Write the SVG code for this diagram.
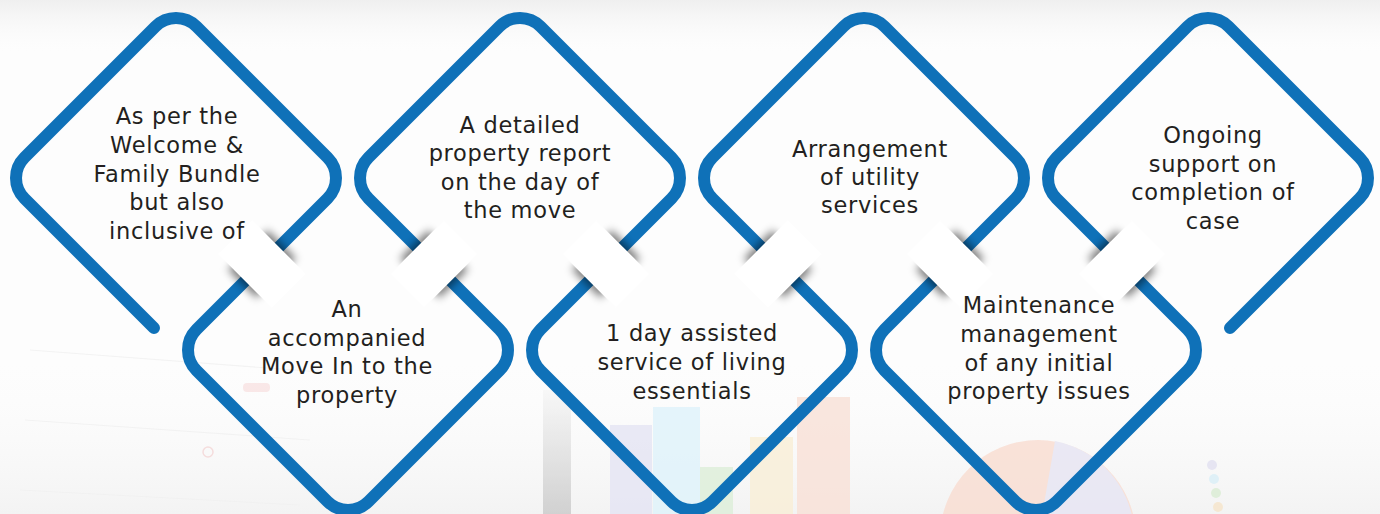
<svg xmlns="http://www.w3.org/2000/svg" width="1380" height="514" viewBox="0 0 1380 514">
  <defs>
    <style>
      .ring { fill: none; stroke: #0F71B8; stroke-width: 12; stroke-linecap: round; stroke-linejoin: round; }
      .lbl { font-family: "DejaVu Sans", "Liberation Sans", sans-serif; font-size: 22.5px; fill: #231f20; text-anchor: middle; letter-spacing: 0.7px; }
      .band { fill: #ffffff; }
      .shade { fill: #000000; opacity: 0.5; filter: url(#blur); }
    </style>
    <filter id="blur" x="-50%" y="-50%" width="200%" height="200%">
      <feGaussianBlur stdDeviation="4"/>
    </filter>
    <linearGradient id="topfade" x1="0" y1="0" x2="0" y2="1">
      <stop offset="0" stop-color="#efefef"/>
      <stop offset="1" stop-color="#ffffff" stop-opacity="0"/>
    </linearGradient>
    <linearGradient id="graybar" x1="0" y1="0" x2="0" y2="1">
      <stop offset="0" stop-color="#f7f7f7"/>
      <stop offset="1" stop-color="#c9c9c9"/>
    </linearGradient>
    <linearGradient id="bottomfade" x1="0" y1="0" x2="0" y2="1">
      <stop offset="0" stop-color="#ffffff" stop-opacity="0"/>
      <stop offset="1" stop-color="#f3f3f3"/>
    </linearGradient>
  </defs>

  <!-- background -->
  <g id="background">
    <rect x="0" y="0" width="1380" height="514" fill="#fdfdfd"/>
    <rect x="0" y="0" width="1380" height="60" fill="url(#topfade)"/>
    <rect x="0" y="330" width="1380" height="184" fill="url(#bottomfade)"/>
    <g opacity="0.8">
      <path d="M30 350 L320 372 M25 420 L310 440 M20 490 L300 505" stroke="#f1f1f1" stroke-width="1.2" fill="none"/>
      <rect x="243" y="383" width="27" height="9" rx="4" fill="#f9e3e3"/>
      <circle cx="208" cy="452" r="5" fill="none" stroke="#f4d6d6" stroke-width="1.5"/>
      <rect x="543" y="390" width="28" height="124" fill="url(#graybar)"/>
      <rect x="610" y="425" width="42" height="89" fill="#e5e5f4"/>
      <rect x="653" y="407" width="47" height="107" fill="#dff3fb"/>
      <rect x="700" y="467" width="33" height="47" fill="#ddefd9"/>
      <rect x="750" y="437" width="43" height="77" fill="#f9efd7"/>
      <rect x="797" y="397" width="53" height="117" fill="#f9e1d7"/>
      <circle cx="1038" cy="538" r="98" fill="#f9ddd1"/>
      <path d="M1038 538 L1055 441 A98 98 0 0 1 1021 634 Z" fill="#e7e5f3"/>
      <circle cx="1212" cy="465" r="5" fill="#e2e1f1"/>
      <circle cx="1214" cy="479" r="5" fill="#daeff8"/>
      <circle cx="1216" cy="493" r="5" fill="#daedd4"/>
      <circle cx="1218" cy="507" r="5" fill="#f6e5ca"/>
    </g>
  </g>

  <!-- diamond outlines -->
  <g id="node-1">
    <path class="ring" d="M154 328 L24.5 198.5 A29 29 0 0 1 24.5 157.5 L155.5 26.5 A29 29 0 0 1 196.5 26.5 L327.5 157.5 A29 29 0 0 1 327.5 198.5 L262 264"/>
  </g>
  <g id="node-2">
    <path class="ring" d="M262 264 L196.5 329.5 A29 29 0 0 0 196.5 370.5 L327.5 501.5 A29 29 0 0 0 368.5 501.5 L499.5 370.5 A29 29 0 0 0 499.5 329.5 L434 264"/>
  </g>
  <g id="node-3">
    <path class="ring" d="M434 264 L368.5 198.5 A29 29 0 0 1 368.5 157.5 L499.5 26.5 A29 29 0 0 1 540.5 26.5 L671.5 157.5 A29 29 0 0 1 671.5 198.5 L606 264"/>
  </g>
  <g id="node-4">
    <path class="ring" d="M606 264 L540.5 329.5 A29 29 0 0 0 540.5 370.5 L671.5 501.5 A29 29 0 0 0 712.5 501.5 L843.5 370.5 A29 29 0 0 0 843.5 329.5 L778 264"/>
  </g>
  <g id="node-5">
    <path class="ring" d="M778 264 L712.5 198.5 A29 29 0 0 1 712.5 157.5 L843.5 26.5 A29 29 0 0 1 884.5 26.5 L1015.5 157.5 A29 29 0 0 1 1015.5 198.5 L950 264"/>
  </g>
  <g id="node-6">
    <path class="ring" d="M950 264 L884.5 329.5 A29 29 0 0 0 884.5 370.5 L1015.5 501.5 A29 29 0 0 0 1056.5 501.5 L1187.5 370.5 A29 29 0 0 0 1187.5 329.5 L1122 264"/>
  </g>
  <g id="node-7">
    <path class="ring" d="M1122 264 L1056.5 198.5 A29 29 0 0 1 1056.5 157.5 L1187.5 26.5 A29 29 0 0 1 1228.5 26.5 L1359.5 157.5 A29 29 0 0 1 1359.5 198.5 L1230 328"/>
  </g>

  <!-- folds where the outline passes from one diamond to the next -->
  <g id="connectors">
    <g transform="translate(262 264) rotate(-45)"><rect class="shade" x="-28" y="-20" width="56" height="40"/><rect class="band" x="-24" y="-38" width="48" height="76"/></g>
    <g transform="translate(434 264) rotate(45)"><rect class="shade" x="-28" y="-20" width="56" height="40"/><rect class="band" x="-24" y="-38" width="48" height="76"/></g>
    <g transform="translate(606 264) rotate(-45)"><rect class="shade" x="-28" y="-20" width="56" height="40"/><rect class="band" x="-24" y="-38" width="48" height="76"/></g>
    <g transform="translate(778 264) rotate(45)"><rect class="shade" x="-28" y="-20" width="56" height="40"/><rect class="band" x="-24" y="-38" width="48" height="76"/></g>
    <g transform="translate(950 264) rotate(-45)"><rect class="shade" x="-28" y="-20" width="56" height="40"/><rect class="band" x="-24" y="-38" width="48" height="76"/></g>
    <g transform="translate(1122 264) rotate(45)"><rect class="shade" x="-28" y="-20" width="56" height="40"/><rect class="band" x="-24" y="-38" width="48" height="76"/></g>
  </g>

  <!-- labels -->
  <g id="label-1">
    <text class="lbl" x="177" y="124">As per the</text>
    <text class="lbl" x="177" y="153">Welcome &amp;</text>
    <text class="lbl" x="177" y="182">Family Bundle</text>
    <text class="lbl" x="177" y="210">but also</text>
    <text class="lbl" x="177" y="239">inclusive of</text>
  </g>
  <g id="label-2">
    <text class="lbl" x="347" y="317">An</text>
    <text class="lbl" x="347" y="346">accompanied</text>
    <text class="lbl" x="347" y="374">Move In to the</text>
    <text class="lbl" x="347" y="403">property</text>
  </g>
  <g id="label-3">
    <text class="lbl" x="520" y="133">A detailed</text>
    <text class="lbl" x="520" y="161">property report</text>
    <text class="lbl" x="520" y="190">on the day of</text>
    <text class="lbl" x="520" y="218">the move</text>
  </g>
  <g id="label-4">
    <text class="lbl" x="692" y="341">1 day assisted</text>
    <text class="lbl" x="692" y="370">service of living</text>
    <text class="lbl" x="692" y="399">essentials</text>
  </g>
  <g id="label-5">
    <text class="lbl" x="870" y="157">Arrangement</text>
    <text class="lbl" x="870" y="185">of utility</text>
    <text class="lbl" x="870" y="213">services</text>
  </g>
  <g id="label-6">
    <text class="lbl" x="1039" y="313">Maintenance</text>
    <text class="lbl" x="1039" y="342">management</text>
    <text class="lbl" x="1039" y="371">of any initial</text>
    <text class="lbl" x="1039" y="399">property issues</text>
  </g>
  <g id="label-7">
    <text class="lbl" x="1213" y="143">Ongoing</text>
    <text class="lbl" x="1213" y="172">support on</text>
    <text class="lbl" x="1213" y="200">completion of</text>
    <text class="lbl" x="1213" y="229">case</text>
  </g>
</svg>
